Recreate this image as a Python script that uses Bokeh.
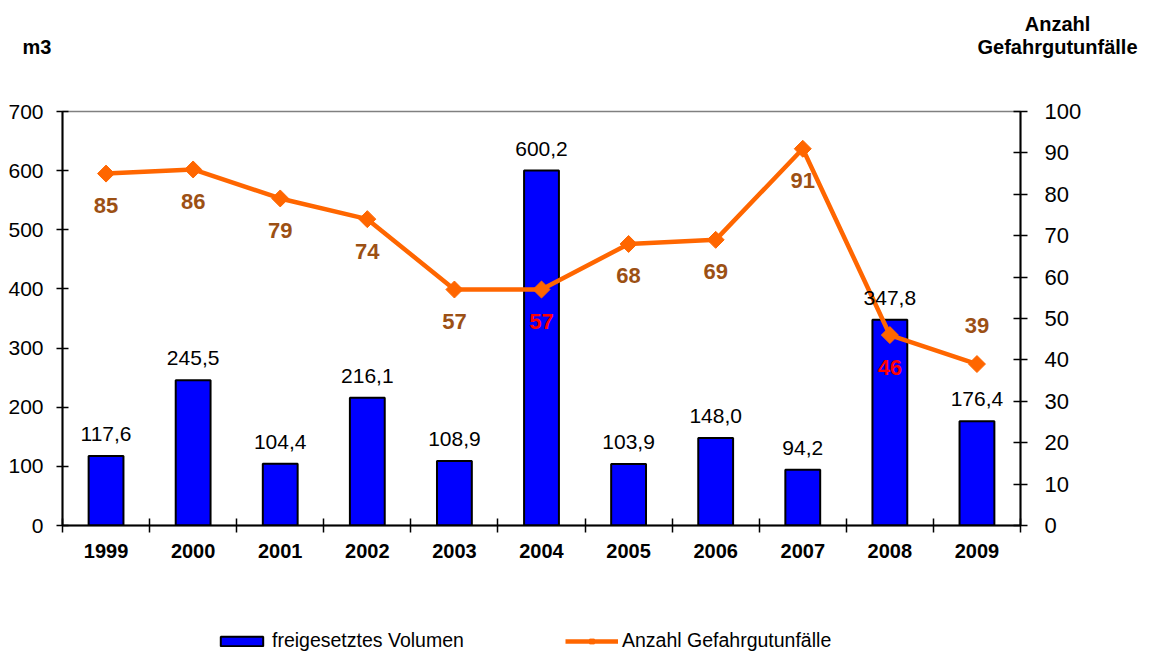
import numpy as np
from bokeh.plotting import figure
from bokeh.layouts import column
from bokeh.models import (ColumnDataSource, Range1d, LinearAxis, FixedTicker,
                          LabelSet, Label, Legend, LegendItem)
from bokeh.core.properties import value
from bokeh.embed import file_html
from bokeh.resources import INLINE

# ---- data ----
years = ["1999", "2000", "2001", "2002", "2003", "2004", "2005", "2006", "2007", "2008", "2009"]
volumes = [117.6, 245.5, 104.4, 216.1, 108.9, 600.2, 103.9, 148.0, 94.2, 347.8, 176.4]
accidents = [85, 86, 79, 74, 57, 57, 68, 69, 91, 46, 39]
left_title = "m3"
right_title = ["Anzahl", "Gefahrgutunfälle"]
legend_labels = ["freigesetztes Volumen", "Anzahl Gefahrgutunfälle"]

# ---- styles ----
FONT = "Liberation Sans"
BLUE = "#0000FF"
ORANGE = "#FF6600"
BROWN = "#9C5014"
RED = "#FF0000"
acc_label_colors = [BROWN] * len(years)
acc_label_colors[5] = RED
acc_label_colors[9] = RED
acc_label_offsets = [-32] * len(years)
acc_label_offsets[-1] = 39

xpos = np.arange(len(years)) + 0.5
vol_labels = [f"{v:.1f}".replace(".", ",") for v in volumes]
acc_labels = [str(a) for a in accidents]

src = ColumnDataSource(dict(x=xpos, vol=volumes, acc=accidents,
                            vol_lab=vol_labels, acc_lab=acc_labels,
                            acc_col=acc_label_colors, acc_off=acc_label_offsets))

W = 1152


def strip(height):
    f = figure(width=W, height=height, x_range=Range1d(0, W), y_range=Range1d(0, height),
               min_border=0, x_axis_type=None, y_axis_type=None,
               output_backend="svg", toolbar_location=None)
    f.frame_align = False
    f.outline_line_color = None
    f.xgrid.visible = False
    f.ygrid.visible = False
    return f


# ---- top strip with axis titles ----
top = strip(90)
top.add_layout(Label(x=22, y=44, text=left_title, text_font=FONT,
                     text_font_style="bold", text_font_size="20px",
                     text_align="left", text_baseline="middle", text_color="black"))
top.add_layout(Label(x=1057, y=67, text=right_title[0], text_font=FONT,
                     text_font_style="bold", text_font_size="20px",
                     text_align="center", text_baseline="middle", text_color="black"))
top.add_layout(Label(x=1057, y=44, text=right_title[1], text_font=FONT,
                     text_font_style="bold", text_font_size="20px",
                     text_align="center", text_baseline="middle", text_color="black"))

# ---- main chart ----
p = figure(frame_width=958, frame_height=414,
           min_border_left=62, min_border_right=132,
           min_border_top=21, min_border_bottom=50,
           x_range=Range1d(0, len(years)), y_range=Range1d(0, 700),
           output_backend="svg", toolbar_location=None)
p.frame_align = False
p.extra_y_ranges = {"right": Range1d(0, 100)}

p.xgrid.visible = False
p.ygrid.visible = False
p.outline_line_color = "#808080"
p.outline_line_width = 1.5

# x axis
xa = p.xaxis[0]
xa.ticker = FixedTicker(ticks=list(xpos), minor_ticks=list(range(len(years) + 1)))
xa.major_label_overrides = {float(x): y for x, y in zip(xpos, years)}
xa.major_tick_line_color = None
xa.minor_tick_line_color = "black"
xa.minor_tick_in = 7
xa.minor_tick_out = 7
xa.minor_tick_line_width = 1.5
xa.axis_line_width = 2
xa.axis_line_color = "black"
xa.major_label_text_font = FONT
xa.major_label_text_font_style = "bold"
xa.major_label_text_font_size = "20px"
xa.major_label_text_color = "black"
xa.major_label_standoff = 11

# left axis
ya = p.yaxis[0]
ya.ticker = FixedTicker(ticks=list(range(0, 701, 100)))
ya.major_tick_in = 6
ya.major_tick_out = 6
ya.minor_tick_line_color = None
ya.major_tick_line_color = "black"
ya.major_tick_line_width = 1.5
ya.axis_line_width = 2
ya.axis_line_color = "black"
ya.major_label_text_font = FONT
ya.major_label_text_font_size = "21px"
ya.major_label_text_color = "black"
ya.major_label_standoff = 13

# right axis
ra = LinearAxis(y_range_name="right", ticker=FixedTicker(ticks=list(range(0, 101, 10))))
ra.major_tick_in = 7
ra.major_tick_out = 7
ra.minor_tick_line_color = None
ra.major_tick_line_color = "black"
ra.major_tick_line_width = 1.5
ra.axis_line_width = 2
ra.axis_line_color = "black"
ra.major_label_text_font = FONT
ra.major_label_text_font_size = "22px"
ra.major_label_text_color = "black"
ra.major_label_standoff = 17
p.add_layout(ra, "right")

bar_style = dict(fill_color=BLUE, line_color="black", line_width=2)
line_style = dict(line_color=ORANGE, line_width=4.5)
pt_style = dict(marker="square", angle=np.pi / 4, size=12,
                fill_color=ORANGE, line_color=ORANGE)

# bars
p.vbar(x="x", top="vol", width=0.4, source=src, **bar_style)

# line
p.line(x="x", y="acc", source=src, y_range_name="right", **line_style)
p.scatter(x="x", y="acc", source=src, y_range_name="right", **pt_style)

# bar value labels
p.add_layout(LabelSet(x="x", y="vol", text="vol_lab", source=src,
                      text_align="center", text_baseline="alphabetic",
                      y_offset=15, text_font=value(FONT), text_font_size=value("21px"),
                      text_color="black"))

# line value labels
p.add_layout(LabelSet(x="x", y="acc", text="acc_lab", source=src,
                      y_range_name="right",
                      text_align="center", text_baseline="middle",
                      y_offset="acc_off", text_font=value(FONT), text_font_size=value("22px"),
                      text_font_style="bold", text_color="acc_col"))

# ---- bottom strip with legend (hidden renderers only feed the legend glyphs) ----
bot = strip(77)
lb = bot.vbar(x="x", top="vol", width=0.4, source=src, visible=False, **bar_style)
ll = bot.line(x="x", y="acc", source=src, visible=False, **line_style)
ls = bot.scatter(x="x", y="acc", source=src, visible=False, **pt_style)
legend = Legend(items=[LegendItem(label=legend_labels[0], renderers=[lb]),
                       LegendItem(label=legend_labels[1], renderers=[ll, ls])],
                orientation="horizontal", location=(215, 0),
                glyph_width=53, glyph_height=12, label_width=293,
                label_standoff=4, spacing=0, padding=0, margin=0,
                border_line_color=None, background_fill_alpha=0,
                inactive_fill_alpha=0,
                label_text_font=FONT, label_text_font_size="19.5px",
                label_text_color="black")
bot.add_layout(legend, "center")

layout = column(top, p, bot, spacing=0)
open("out.html", "w").write(file_html(layout, INLINE))
